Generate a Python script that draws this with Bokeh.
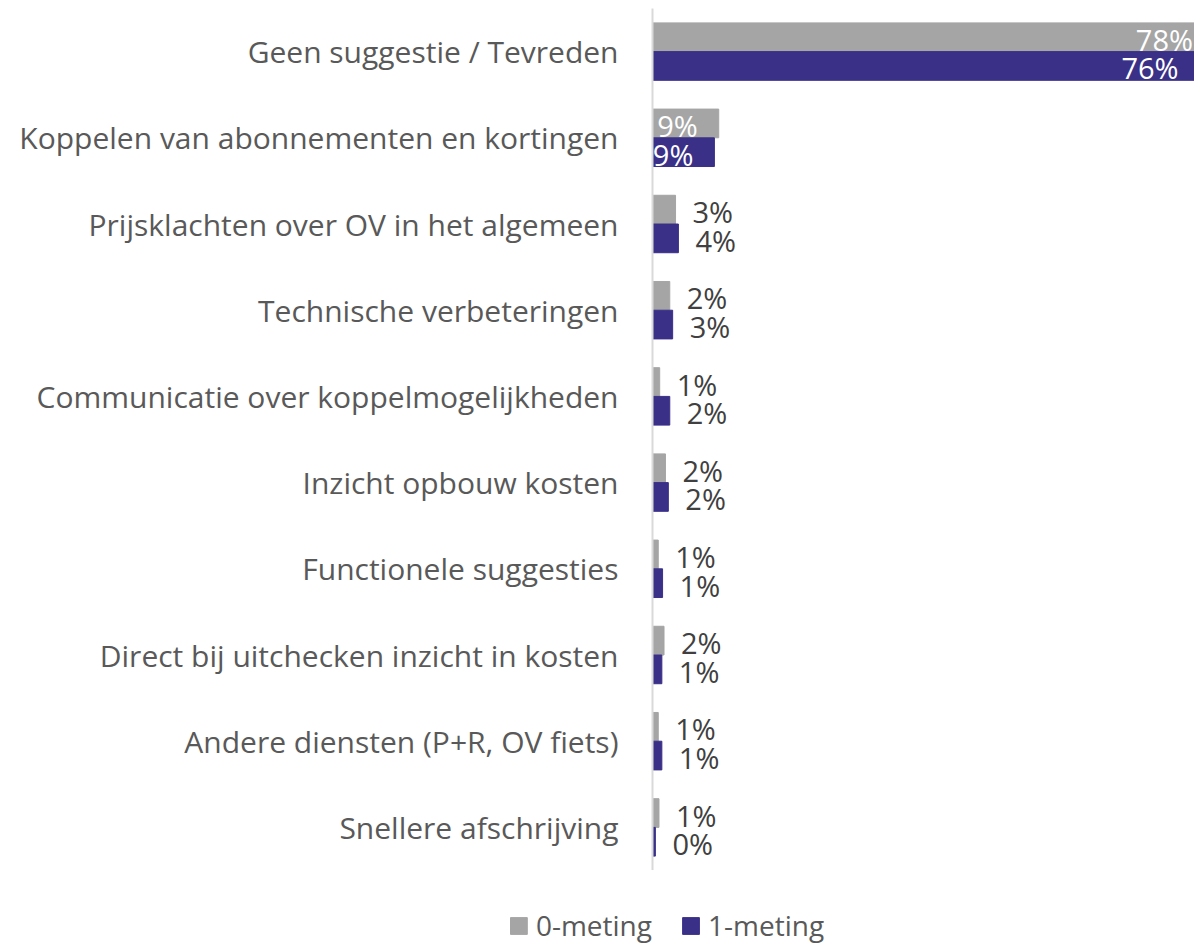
from bokeh.plotting import figure
from bokeh.layouts import column
from bokeh.models import ColumnDataSource, Range1d, FactorRange, LabelSet, Legend, LegendItem
from bokeh.core.properties import value
from bokeh.transform import dodge
from bokeh.embed import file_html
from bokeh.resources import INLINE

categories = [
    "Geen suggestie / Tevreden",
    "Koppelen van abonnementen en kortingen",
    "Prijsklachten over OV in het algemeen",
    "Technische verbeteringen",
    "Communicatie over koppelmogelijkheden",
    "Inzicht opbouw kosten",
    "Functionele suggesties",
    "Direct bij uitchecken inzicht in kosten",
    "Andere diensten (P+R, OV fiets)",
    "Snellere afschrijving",
]
meting0 = [78, 9.2, 3.2, 2.4, 1.0, 1.8, 0.8, 1.6, 0.8, 0.9]
meting1 = [76, 8.6, 3.6, 2.8, 2.4, 2.2, 1.4, 1.3, 1.3, 0.4]
series_names = ["0-meting", "1-meting"]

FONT = "Open Sans"
FS = "30px"
LFS = "29px"
GRAY = "#A5A5A5"
PURPLE = "#3A3088"
XMAX = 75.3
INSIDE_MIN = 5

p = figure(width=1194, height=870, output_backend="svg", toolbar_location=None,
           y_range=FactorRange(*reversed(categories)), x_range=Range1d(0, XMAX),
           x_axis_location=None,
           min_border_left=652, min_border_right=0, min_border_top=8, min_border_bottom=0)
p.outline_line_color = None
p.xgrid.visible = False
p.ygrid.visible = False

ax = p.yaxis[0]
ax.axis_line_color = "#D9D9D9"
ax.axis_line_width = 2
ax.major_tick_line_color = None
ax.minor_tick_line_color = None
ax.major_tick_in = 0
ax.major_tick_out = 0
ax.major_label_standoff = 34
ax.major_label_text_font = FONT
ax.major_label_text_font_size = FS
ax.major_label_text_color = "#595959"

# legend strip below the chart
p2 = figure(width=1194, height=74, output_backend="svg", toolbar_location=None,
            x_range=Range1d(0, XMAX), y_range=FactorRange(*reversed(categories)),
            x_axis_location=None, y_axis_location=None,
            min_border_left=652, min_border_right=0, min_border_top=0, min_border_bottom=0)
p2.outline_line_color = None
p2.xgrid.visible = False
p2.ygrid.visible = False

legend_renderers = []
for vals, color, off in [(meting0, GRAY, 0.1667), (meting1, PURPLE, -0.1667)]:
    src = ColumnDataSource(dict(cat=categories, v=vals))
    p.hbar(y=dodge("cat", off, range=p.y_range), right="v", left=0,
           height=0.333, source=src, fill_color=color, line_color=color, line_width=1)
    lr = p2.hbar(y=dodge("cat", off, range=p2.y_range), right="v", left=0,
                 height=0.333, source=src, fill_color=color, line_color=color, visible=False)
    legend_renderers.append(lr)

    ins = [i for i, v in enumerate(vals) if v >= INSIDE_MIN]
    out = [i for i, v in enumerate(vals) if v < INSIDE_MIN]
    src_in = ColumnDataSource(dict(cat=[categories[i] for i in ins], v=[vals[i] for i in ins],
                                   lab=[f"{int(round(vals[i]))}%" for i in ins]))
    src_out = ColumnDataSource(dict(cat=[categories[i] for i in out], v=[vals[i] for i in out],
                                    lab=[f"{int(round(vals[i]))}%" for i in out]))
    p.add_layout(LabelSet(x="v", y=dodge("cat", off, range=p.y_range), text="lab", source=src_in,
                          x_offset=-21, y_offset=-2, text_align="right", text_baseline="middle",
                          text_font=value(FONT), text_font_size=value(LFS), text_color="white"))
    p.add_layout(LabelSet(x="v", y=dodge("cat", off, range=p.y_range), text="lab", source=src_out,
                          x_offset=17, y_offset=-2, text_align="left", text_baseline="middle",
                          text_font=value(FONT), text_font_size=value(LFS), text_color="#404040"))

legend_style = dict(orientation="horizontal", glyph_width=21, glyph_height=21, label_standoff=7,
                    label_height=24, padding=0, label_text_font=FONT, label_text_font_size="28px",
                    label_text_color="#595959", border_line_color=None, background_fill_alpha=0)

legend_a = Legend(items=[LegendItem(label=series_names[0], renderers=[legend_renderers[0]])],
                  location="bottom_right", margin=0, **legend_style)
p2.add_layout(legend_a, "left")

legend_b = Legend(items=[LegendItem(label=series_names[1], renderers=[legend_renderers[1]])],
                  location=(28, 0), margin=0, **legend_style)
p2.add_layout(legend_b, "center")

open("out.html", "w").write(file_html(column(p, p2, spacing=0), INLINE))
